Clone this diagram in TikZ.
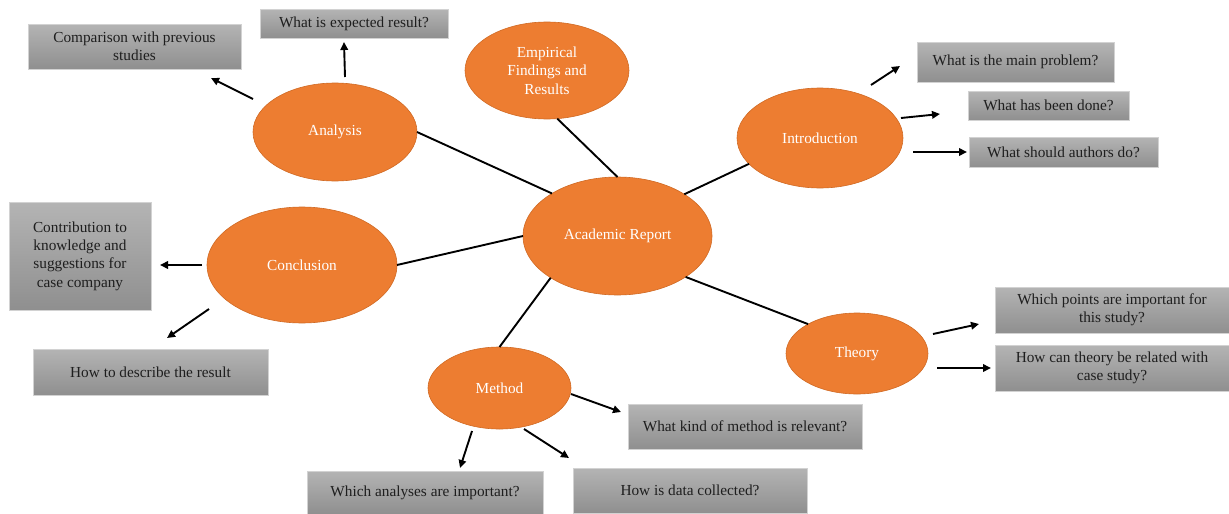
\documentclass[tikz,border=0pt]{standalone}
\usepackage{fontspec}
\setmainfont{Liberation Serif}
\usetikzlibrary{shapes.geometric,arrows.meta}

\definecolor{topicfill}{HTML}{ED7D31}
\definecolor{topicedge}{HTML}{D06A24}
\definecolor{boxtop}{HTML}{B4B4B4}
\definecolor{boxbottom}{HTML}{8F8F8F}
\definecolor{boxedge}{HTML}{D2D2D2}
\definecolor{boxtext}{HTML}{1E1E1E}

\begin{document}
\begin{tikzpicture}[x=1pt,y=-1pt,
  txt/.style={font=\fontsize{15.3}{18.3}\selectfont},
  topic/.style={txt, ellipse, fill=topicfill, draw=topicedge, line width=0.6pt,
    inner sep=0pt, outer sep=0pt, text=white, align=center},
  question/.style={txt, rectangle, top color=boxtop, bottom color=boxbottom,
    draw=boxedge, line width=0.8pt, inner sep=0pt, outer sep=0pt,
    text=boxtext, align=center},
  link/.style={line width=1.9pt, black},
  pointer/.style={line width=1.9pt, black, -{Triangle[length=8pt,width=7.5pt]}},
]
\useasboundingbox (0,0) rectangle (1229,514);

% topics
\node[topic, minimum width=189pt, minimum height=118pt] (report) at (617.5,236) {Academic Report};
\node[topic, minimum width=164pt, minimum height=98pt] (analysis) at (335,132) {Analysis};
\node[topic, minimum width=164pt, minimum height=97pt] (empirical) at (547,70.5) {Empirical\\Findings and\\Results};
\node[topic, minimum width=166pt, minimum height=100pt] (intro) at (820,138) {Introduction};
\node[topic, minimum width=190pt, minimum height=116pt] (conclusion) at (302,265) {Conclusion};
\node[topic, minimum width=143pt, minimum height=82pt] (method) at (499.5,388) {Method};
\node[topic, minimum width=142pt, minimum height=81pt] (theory) at (857,353.5) {Theory};

% questions
\node[question, minimum width=213pt, minimum height=45pt] (compare) at (134.5,46.5) {Comparison with previous\\studies};
\node[question, minimum width=188pt, minimum height=29pt] (expected) at (354,23.5) {What is expected result?};
\node[question, minimum width=197pt, minimum height=40pt] (problem) at (1015.5,62) {What is the main problem?};
\node[question, minimum width=161pt, minimum height=29pt] (done) at (1048.5,105.5) {What has been done?};
\node[question, minimum width=189pt, minimum height=30pt] (should) at (1063.5,152) {What should authors do?};
\node[question, minimum width=142pt, minimum height=108pt] (contrib) at (80,256) {Contribution to\\knowledge and\\suggestions for\\case company};
\node[question, minimum width=235pt, minimum height=46pt] (describe) at (150.5,372) {How to describe the result};
\node[question, minimum width=234pt, minimum height=46pt] (points) at (1112,310) {Which points are important for\\this study?};
\node[question, minimum width=234pt, minimum height=46pt] (related) at (1112,368) {How can theory be related with\\case study?};
\node[question, minimum width=234pt, minimum height=45pt] (kind) at (745,426.5) {What kind of method is relevant?};
\node[question, minimum width=236pt, minimum height=43pt] (analyses) at (425,492.5) {Which analyses are important?};
\node[question, minimum width=234pt, minimum height=45pt] (collected) at (690,490.5) {How is data collected?};

% spokes from the central topic
\draw[link] (analysis.east) -- (report.147.5);
\draw[link] (empirical.-78) -- (report.90);
\draw[link] (intro.200) -- (report.32.5);
\draw[link] (conclusion.east) -- (report.west);
\draw[link] (method.north) -- (report.212);
\draw[link] (theory.149.5) -- (report.-31.3);

% free-standing arrows towards the questions
\coordinate (a1s) at (253,99);  \coordinate (a1e) at (211,78);
\coordinate (a2s) at (345,77);  \coordinate (a2e) at (344,42);
\coordinate (i1s) at (871,85);  \coordinate (i1e) at (900,66);
\coordinate (i2s) at (901,118); \coordinate (i2e) at (940,114);
\coordinate (i3s) at (913,152); \coordinate (i3e) at (967,152);
\coordinate (c1s) at (202,265); \coordinate (c1e) at (160,265);
\coordinate (c2s) at (209,309); \coordinate (c2e) at (167,338);
\coordinate (t1s) at (933,334); \coordinate (t1e) at (979,324);
\coordinate (t2s) at (937,368); \coordinate (t2e) at (991,368);
\coordinate (m1s) at (571,394); \coordinate (m1e) at (621,412);
\coordinate (m2s) at (472,431); \coordinate (m2e) at (460,468);
\coordinate (m3s) at (524,429); \coordinate (m3e) at (569,458);

\foreach \s/\e in {a1s/a1e,a2s/a2e,i1s/i1e,i2s/i2e,i3s/i3e,c1s/c1e,c2s/c2e,
                   t1s/t1e,t2s/t2e,m1s/m1e,m2s/m2e,m3s/m3e}
  \draw[pointer] (\s) -- (\e);
\end{tikzpicture}
\end{document}
